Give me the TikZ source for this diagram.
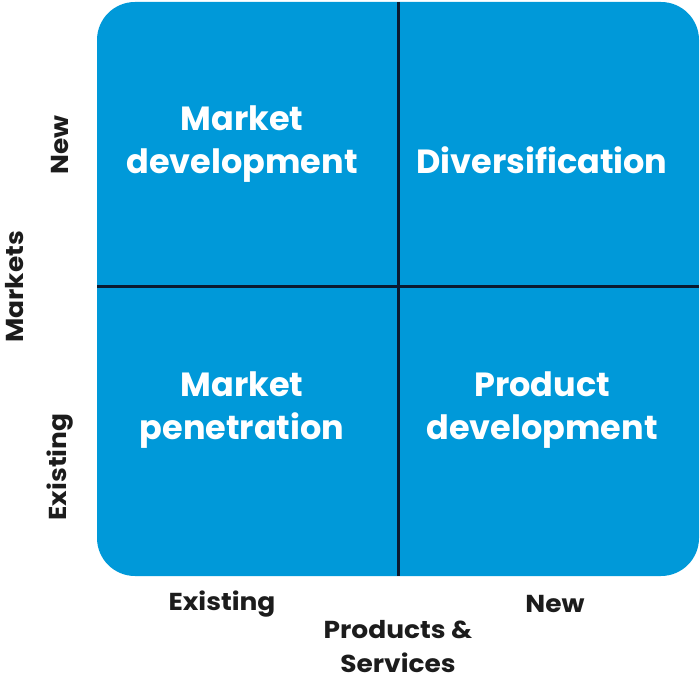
\documentclass[tikz,border=0pt]{standalone}
\usepackage{fontspec}
\setmainfont{Poppins}
\newfontfamily\axisfont{Poppins}[FakeStretch=1.08]
\definecolor{quadblue}{HTML}{0099D9}
\definecolor{divline}{HTML}{0B1A30}
\definecolor{labeltext}{HTML}{1C1C1C}
\begin{document}
\begin{tikzpicture}[x=1pt,y=1pt,
  quadtext/.style={text=white,font=\bfseries\fontsize{33.5}{43}\selectfont,align=center,inner sep=0pt},
  axistext/.style={text=labeltext,font=\axisfont\bfseries\fontsize{24.5}{34}\selectfont,align=center,inner sep=0pt},
  divider/.style={draw=divline,line width=2.8pt}]
\useasboundingbox (0,0) rectangle (700,681);
\fill[quadblue,rounded corners=38pt] (97,105) rectangle (699,679);
\coordinate (vtop) at (398.5,679);
\coordinate (vbot) at (398.5,105);
\coordinate (hleft) at (97,394.5);
\coordinate (hright) at (699,394.5);
\draw[divider] (vtop) -- (vbot);
\draw[divider] (hleft) -- (hright);
\node[quadtext] (md) at (242,537) {Market\\development};
\node[quadtext] (dv) at (542,521) {Diversification};
\node[quadtext] (mp) at (242,271) {Market\\penetration};
\node[quadtext] (pd) at (542,271) {Product\\development};
\node[axistext,rotate=90] (ynew) at (60,536) {New};
\node[axistext,rotate=90] (ymk) at (15,394) {Markets};
\node[axistext,rotate=90] (yex) at (60,214) {Existing};
\node[axistext] (xex) at (222,77) {Existing};
\node[axistext] (xnew) at (555,77) {New};
\node[axistext] (xps) at (398,34) {Products \&\\Services};
\end{tikzpicture}
\end{document}
